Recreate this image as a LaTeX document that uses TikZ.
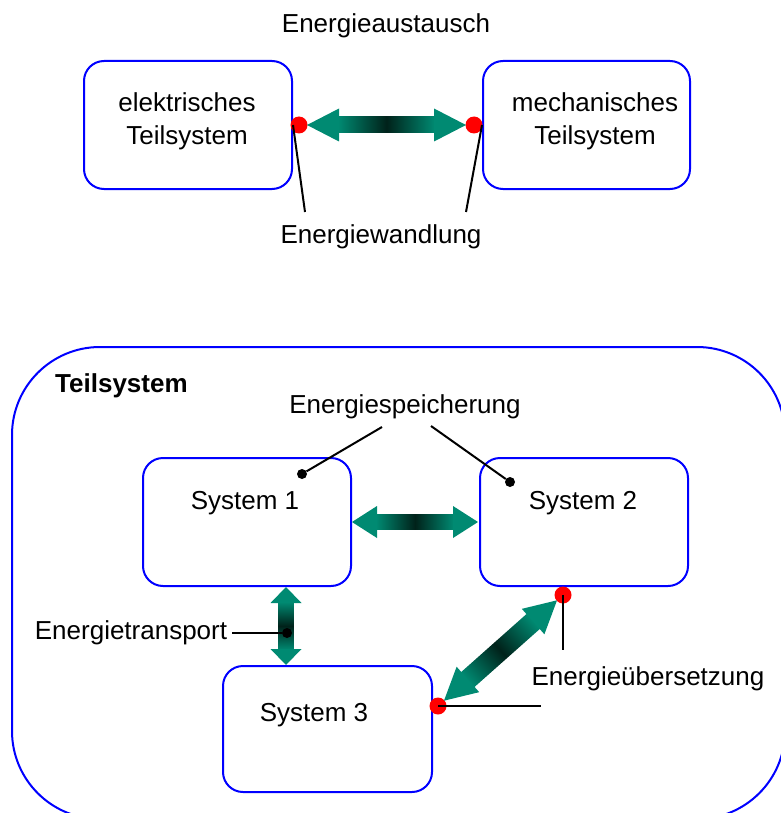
\documentclass[tikz,border=0pt]{standalone}
\usepackage{fontspec}
\setmainfont{Liberation Sans}
\usetikzlibrary{calc}
\definecolor{boxblue}{RGB}{0,0,255}
\definecolor{arrteal}{RGB}{0,138,114}
\definecolor{arrdark}{RGB}{0,34,26}
\definecolor{dotred}{RGB}{255,0,0}

% gradient double arrow between two named points:
% #1 from, #2 to, #3 inset at start, #4 inset at end, #5 head length, #6 head half width, #7 shaft half width
\newcommand\gradarrow[7]{%
  \pgfpointdiff{\pgfpointanchor{#1}{center}}{\pgfpointanchor{#2}{center}}%
  \pgfgetlastxy{\gaDx}{\gaDy}%
  \pgfmathsetmacro\gaAng{atan2(\gaDy,\gaDx)}%
  \pgfmathsetmacro\gaLen{veclen(\gaDx,\gaDy)}%
  \pgfmathsetmacro\gaStart{#3}%
  \pgfmathsetmacro\gaEnd{\gaLen-#4}%
  \pgfmathsetmacro\gaSH{\gaStart+#5}%
  \pgfmathsetmacro\gaEH{\gaEnd-#5}%
  \pgfmathsetmacro\gaSHo{\gaSH-1}%
  \pgfmathsetmacro\gaEHo{\gaEH+1}%
  \begin{scope}[transform canvas={shift={(#1)},rotate=\gaAng}]
    \shade[left color=arrteal,right color=arrteal,middle color=arrdark]
      (\gaSHo,-#7) rectangle (\gaEHo,#7);
    \fill[arrteal] (\gaStart,0) -- (\gaSH,-#6) -- (\gaSH,#6) -- cycle;
    \fill[arrteal] (\gaEnd,0) -- (\gaEH,-#6) -- (\gaEH,#6) -- cycle;
  \end{scope}}

\tikzset{
  txt/.style={font=\fontsize{26}{33}\selectfont, inner sep=0pt, anchor=base},
  sysbox/.style={draw=boxblue, line width=2pt, rounded corners=20pt, inner sep=0pt,
    minimum width=208pt, minimum height=128pt},
  reddot/.style={circle, fill=dotred, inner sep=0pt, minimum size=17pt},
  blackdot/.style={circle, fill=black, inner sep=0pt, minimum size=10pt},
  leader/.style={draw=black, line width=2pt},
}

\begin{document}
\begin{tikzpicture}[x=1pt,y=-1pt]
\useasboundingbox (0,0) rectangle (780,813);

% ---------- top part ----------
\node[txt] (taus) at (386,33) {Energieaustausch};
\node[sysbox] (b1) at (188,125) {};
\node[sysbox, minimum width=207pt] (b2) at (586.5,125) {};
\node[txt, align=center] (b1t) at (187,145) {elektrisches\\Teilsystem};
\node[txt, align=center] (b2t) at (595,145) {mechanisches\\Teilsystem};

\node[reddot] (d1) at (299,125) {};
\node[reddot] (d2) at (474,125) {};
\gradarrow{d1}{d2}{8}{8}{32}{16.5}{8}

\coordinate (w1) at (305,212);
\coordinate (w2) at (466,212);
\draw[leader] (b1.east) -- (w1);
\draw[leader] (b2.west) -- (w2);
\node[txt] (twand) at (381,243) {Energiewandlung};

% ---------- bottom part ----------
\node[draw=boxblue, line width=2pt, rounded corners=88pt, inner sep=0pt,
      minimum width=773pt, minimum height=472pt] (big) at (398.5,583) {};
\node[txt, anchor=base west, font=\fontsize{26}{33}\selectfont\bfseries] (tteil) at (55,392) {Teilsystem};

\node[sysbox] (s1) at (247,522) {};
\node[sysbox] (s2) at (584,522) {};
\node[sysbox, minimum width=209pt, minimum height=126pt] (s3) at (327.5,729) {};
\node[txt] (s1t) at (245,509) {System 1};
\node[txt] (s2t) at (583,509) {System 2};
\node[txt] (s3t) at (314,721) {System 3};

% Energiespeicherung
\node[txt] (tspei) at (405,413) {Energiespeicherung};
\coordinate (sp1) at (382,427);
\coordinate (sp2) at (431,426);
\node[blackdot] (k1) at (302,474) {};
\node[blackdot] (k2) at (510,482) {};
\draw[leader] (sp1) -- (k1);
\draw[leader] (sp2) -- (k2);

% arrow System 1 <-> System 2
\coordinate (ha) at (s1.east);
\coordinate (hb) at (s2.west);
\gradarrow{ha}{hb}{0}{1}{25}{16}{7.5}

% vertical arrow System 1 <-> System 3
\coordinate (va) at ($(s1.south)+(39,0)$);
\coordinate (vb) at (va |- s3.north);
\gradarrow{va}{vb}{0}{0}{16}{15.5}{7.5}
\node[txt] (ttrans) at (131,639) {Energietransport};
\node[blackdot] (k3) at (287,633) {};
\coordinate (tr1) at (232,633);
\draw[leader] (tr1) -- (k3);

% diagonal arrow System 3 <-> System 2
\node[reddot] (d3) at (563,595) {};
\node[reddot] (d4) at (438,706) {};
\gradarrow{d4}{d3}{8}{8}{32}{17}{10}
\coordinate (ue1) at (563,650);
\coordinate (ue2) at (541,706);
\draw[leader] (d3.center) -- (ue1);
\draw[leader] (d4.center) -- (ue2);
\node[txt] (tueb) at (648,685) {Energieübersetzung};
\end{tikzpicture}
\end{document}
